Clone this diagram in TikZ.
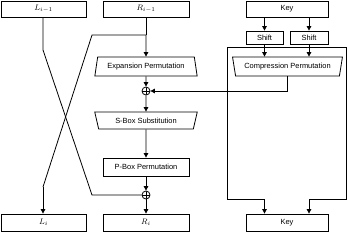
\documentclass[tikz,border=0pt]{standalone}
\usepackage{fontspec}
\setmainfont{Liberation Sans}
\usetikzlibrary{arrows.meta,shapes.geometric}
\begin{document}
\begin{tikzpicture}[x=1bp,y=-1bp,line width=0.8bp,
  lbl/.style={font=\fontsize{7.5}{9}\selectfont},
  mlbl/.style={font=\fontsize{8.5}{10}\selectfont},
  box/.style={draw,rectangle,inner sep=0pt,lbl},
  trap/.style={draw,trapezium,trapezium stretches=true,inner sep=0pt,lbl},
  xor/.style={draw,circle,minimum size=8bp,inner sep=0pt,
    path picture={\draw[line width=0.7bp] (path picture bounding box.north) -- (path picture bounding box.south)
      (path picture bounding box.west) -- (path picture bounding box.east);}},
  arr/.style={-{Triangle[length=4.5bp,width=4.5bp]}}]
\useasboundingbox (0,0) rectangle (347,234);
% top row
\node[box,mlbl,minimum width=85bp,minimum height=16bp] (Lp) at (43.5,9) {$L_{i-1}$};
\node[box,mlbl,minimum width=86bp,minimum height=16bp] (Rp) at (146,9) {$R_{i-1}$};
\node[box,minimum width=82bp,minimum height=16bp] (K1) at (287,9) {Key};
\node[box,minimum width=37bp,minimum height=13bp] (S1) at (264.5,37.5) {Shift};
\node[box,minimum width=38bp,minimum height=13bp] (S2) at (309,37.5) {Shift};
% middle
\node[trap,trapezium angle=72,minimum width=103bp,minimum height=19bp] (Exp) at (146,66.5) {Expansion Permutation};
\node[trap,trapezium angle=110,minimum width=111bp,minimum height=19bp] (Comp) at (287.5,66.5) {Compression Permutation};
\node[xor] (X1) at (146,91) {};
\node[trap,trapezium angle=115,minimum width=103bp,minimum height=17bp] (SB) at (146,120.5) {S-Box Substitution};
\node[box,minimum width=86bp,minimum height=18bp] (PB) at (146,167) {P-Box Permutation};
\node[xor] (X2) at (146,195) {};
% bottom row
\node[box,mlbl,minimum width=85bp,minimum height=17bp] (Li) at (43.5,222.5) {$L_i$};
\node[box,mlbl,minimum width=86bp,minimum height=17bp] (Ri) at (146,222.5) {$R_i$};
\node[box,minimum width=82bp,minimum height=17bp] (K2) at (287,222.5) {Key};
% helper coordinates
\coordinate (br) at (146,35);
\coordinate (bl) at (92,35);
\coordinate (lc) at (43,187);
\coordinate (la) at (43,50);
\coordinate (lb) at (92,195);
\coordinate (cb) at (287.5,91);
\coordinate (tl) at (227,47);
\coordinate (tr) at (346,47);
\coordinate (bl2) at (227,199);
\coordinate (br2) at (346,199);
\coordinate (k2l) at (264.5,199);
\coordinate (k2r) at (309,199);
% right data path
\draw (Rp.south) -- (br);
\draw[arr] (br) -- (Exp.north);
\draw (br) -- (bl) -- (lc);
\draw[arr] (lc) -- (lc |- Li.north);
\draw (Lp.south -| la) -- (la) -- (lb) -- (X2.west);
\draw[arr] (Exp.south) -- (X1.north);
\draw[arr] (X1.south) -- (SB.north);
\draw[arr] (SB.south) -- (PB.north);
\draw[arr] (PB.south) -- (X2.north);
\draw[arr] (X2.south) -- (Ri.north);
% key path
\draw[arr] (S1.north |- K1.south) -- (S1.north);
\draw[arr] (S2.north |- K1.south) -- (S2.north);
\draw[arr] (S1.south) -- (S1.south |- Comp.north);
\draw[arr] (S2.south) -- (S2.south |- Comp.north);
\draw (Comp.south -| cb) -- (cb);
\draw[arr] (cb) -- (X1.east);
\draw (tl) -- (tr);
\draw (tl) -- (bl2) -- (k2l);
\draw[arr] (k2l) -- (k2l |- K2.north);
\draw (tr) -- (br2) -- (k2r);
\draw[arr] (k2r) -- (k2r |- K2.north);
\end{tikzpicture}
\end{document}
